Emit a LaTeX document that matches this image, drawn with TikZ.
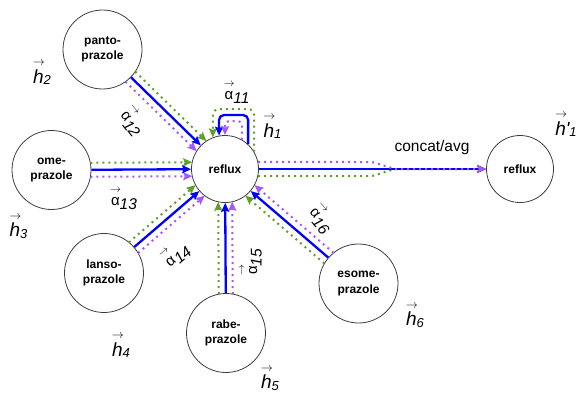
\documentclass[tikz,border=0pt]{standalone}
\usepackage{fontspec}
\setmainfont{Liberation Sans}
\usetikzlibrary{calc,arrows.meta}

\definecolor{edgeblue}{RGB}{0,0,255}
\definecolor{dotgreen}{RGB}{96,160,40}
\definecolor{dotpurple}{RGB}{164,88,250}
\definecolor{ringgray}{RGB}{60,60,60}

% hidden-state label: letter with an arrow over it and a subscript
\newcommand\hvec[2]{{\fontsize{19}{19}\selectfont\itshape
  \rlap{\makebox[0.62em][c]{\raisebox{0.9em}{\fontsize{12}{12}\selectfont$\rightarrow$}}}%
  #1\raisebox{-1.5pt}{\fontsize{13}{13}\selectfont #2}}}
% attention weight label: alpha with an arrow over it and a subscript
\newcommand\avec[1]{{\fontsize{15}{15}\selectfont
  \rlap{\makebox[0.6em][c]{\raisebox{0.85em}{\fontsize{11}{11}\selectfont$\rightarrow$}}}%
  α\raisebox{-4.5pt}{\fontsize{15.5}{15.5}\selectfont\itshape #1}}}

\tikzset{
  drug/.style={circle, draw=ringgray, line width=0.8pt, minimum size=79pt,
    inner sep=0pt, align=center, font=\fontsize{12}{15.5}\selectfont\bfseries},
  hub/.style={drug, minimum size=67pt},
  tip/.style={-{Stealth[length=9pt,width=8pt,inset=1.5pt]}},
  solidedge/.style={draw=edgeblue, line width=2.3pt, tip},
  greendots/.style={draw=dotgreen, line width=2pt, dash pattern=on 2pt off 4pt, tip},
  purpledots/.style={draw=dotpurple, line width=2pt, dash pattern=on 2pt off 4pt, tip},
  lbl/.style={inner sep=0pt}
}

\begin{document}
\begin{tikzpicture}[x=1pt,y=-1pt]
\useasboundingbox (0,0) rectangle (577,392);

% drugs and the two reflux nodes
\node[drug] (panto) at (102.5,49.5) {panto-\\prazole};
\node[drug] (ome)   at (51.5,170)   {ome-\\prazole};
\node[hub]  (reflux) at (225,169)   {reflux};
\node[hub]  (out)   at (520,169)    {reflux};
\node[drug] (lanso) at (104,273)    {lanso-\\prazole};
\node[drug] (rabe)  at (226,333)    {rabe-\\prazole};
\node[drug] (esome) at (358.5,283.5) {esome-\\prazole};

% incoming edges: solid centre line flanked by two dotted lines
\foreach \s in {panto,ome,lanso,rabe,esome}{
  \draw[greendots, shorten <=38.9pt, shorten >=32.8pt]
    ($(\s)!7pt!90:(reflux)$) -- ($(reflux)!7pt!-90:(\s)$);
  \draw[purpledots, shorten <=38.9pt, shorten >=32.8pt]
    ($(\s)!7pt!-90:(reflux)$) -- ($(reflux)!7pt!90:(\s)$);
  \draw[solidedge] (\s) -- (reflux);
}

% self loop on reflux
\draw[greendots, rounded corners=6pt] (reflux.31) |- (213,109) -- (reflux.111);
\draw[solidedge, rounded corners=5pt] (reflux.47) |- (219,115) -- (reflux.100);
\draw[purpledots, rounded corners=4pt] (reflux.60) |- (225,121) -- (reflux.90);

% output edge: the dotted lines merge into the solid one
\coordinate (gbend) at (372,176);
\coordinate (pbend) at (372,162);
\coordinate (merge) at (395,169);
\draw[greendots] (reflux.-12) -- (gbend) -- (merge) -- (out);
\draw[solidedge] (reflux) -- (out);
\draw[purpledots] (reflux.12) -- (pbend) -- (merge) -- (out);

% labels
\node[lbl] (h1)  at (272.5,127) {\hvec{h}{1}};
\node[lbl] (h2)  at (42,73)     {\hvec{h}{2}};
\node[lbl] (h3)  at (18.5,227)  {\hvec{h}{3}};
\node[lbl] (h4)  at (121,346)   {\hvec{h}{4}};
\node[lbl] (h5)  at (270,379)   {\hvec{h}{5}};
\node[lbl] (h6)  at (415,316)   {\hvec{h}{6}};
\node[lbl] (hp1) at (566,125)   {\hvec{h\textquotesingle}{1}};

\node[lbl] (a11) at (237,93)                {\avec{11}};
\node[lbl, rotate=-52] (a12) at (133,122)   {\avec{12}};
\node[lbl] (a13) at (124,199)               {\avec{13}};
\node[lbl, rotate=40]  (a14) at (176,254)   {\avec{14}};
\node[lbl, rotate=90]  (a15) at (251,262)   {\avec{15}};
\node[lbl, rotate=-50] (a16) at (322,219)   {\avec{16}};

\node[lbl, font=\fontsize{15.5}{15.5}\selectfont] (agg) at (432,147) {concat/avg};
\end{tikzpicture}
\end{document}
